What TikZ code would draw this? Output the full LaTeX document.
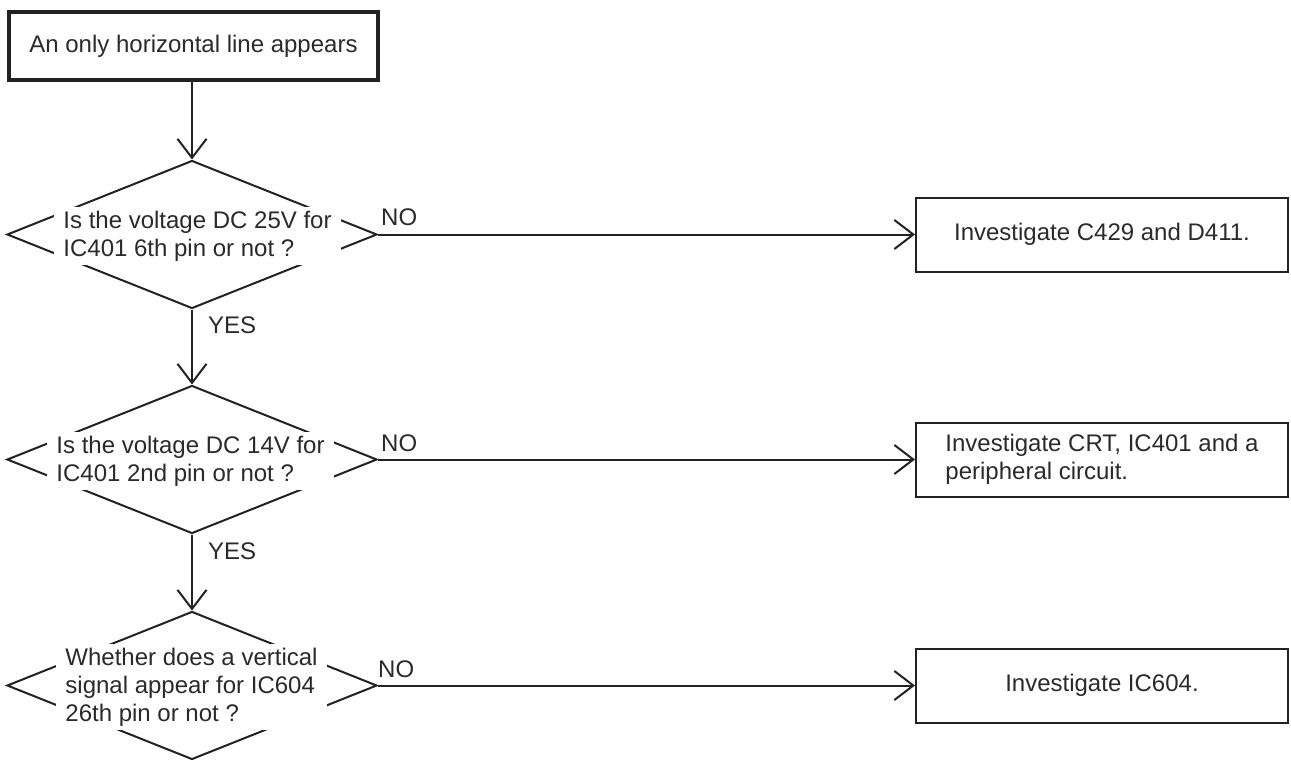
\documentclass[tikz,border=0pt]{standalone}
\usepackage{fontspec}
\setmainfont{Liberation Sans}
\usetikzlibrary{shapes.geometric,arrows.meta}
\definecolor{ink}{HTML}{222222}
\definecolor{txt}{HTML}{2A2A2A}
\begin{document}
\begin{tikzpicture}[x=1pt,y=-1pt,
  every node/.style={font=\fontsize{24}{28}\selectfont, text=txt},
  startbox/.style={draw=ink, line width=4pt, minimum width=369pt, minimum height=68pt, inner sep=0pt},
  actbox/.style={draw=ink, line width=2pt, minimum width=372pt, minimum height=74pt, align=left, inner sep=0pt},
  decision/.style={draw=ink, diamond, line width=2pt, minimum width=370pt, minimum height=148pt, inner sep=0pt},
  qtext/.style={fill=white, align=left, inner xsep=9pt, inner ysep=4pt},
  flow/.style={draw=ink, line width=2pt, -{Straight Barb[length=19pt,width=29pt]}},
  lbl/.style={anchor=base west, inner sep=0pt}
]
\useasboundingbox (0,0) rectangle (1291,760);

\node[startbox] (start) at (193.5,46) {An only horizontal line appears};

\node[decision] (d1) at (192,234.5) {};
\node[decision] (d2) at (192,459.5) {};
\node[decision] (d3) at (192,685.5) {};

\node[qtext] (q1) at (197.5,236) {Is the voltage DC 25V for\\IC401 6th pin or not ?};
\node[qtext] (q2) at (190.5,461) {Is the voltage DC 14V for\\IC401 2nd pin or not ?};
\node[qtext] (q3) at (191.5,687) {Whether does a vertical\\signal appear for IC604\\26th pin or not ?};

\node[actbox] (a1) at (1102,234.5) {Investigate C429 and D411.};
\node[actbox] (a2) at (1102,459.5) {Investigate CRT, IC401 and a\\peripheral circuit.};
\node[actbox] (a3) at (1102,685.5) {Investigate IC604.};

\draw[flow] (start.south -| d1.north) -- (d1.north);
\draw[flow] (d1.south) -- (d2.north);
\draw[flow] (d2.south) -- (d3.north);
\draw[flow] (d1.east) -- (a1.west);
\draw[flow] (d2.east) -- (a2.west);
\draw[flow] (d3.east) -- (a3.west);

\node[lbl] (no1) at (381,225) {NO};
\node[lbl] (no2) at (381,451) {NO};
\node[lbl] (no3) at (378,677) {NO};
\node[lbl] (yes1) at (208,333) {YES};
\node[lbl] (yes2) at (208,559) {YES};
\end{tikzpicture}
\end{document}
